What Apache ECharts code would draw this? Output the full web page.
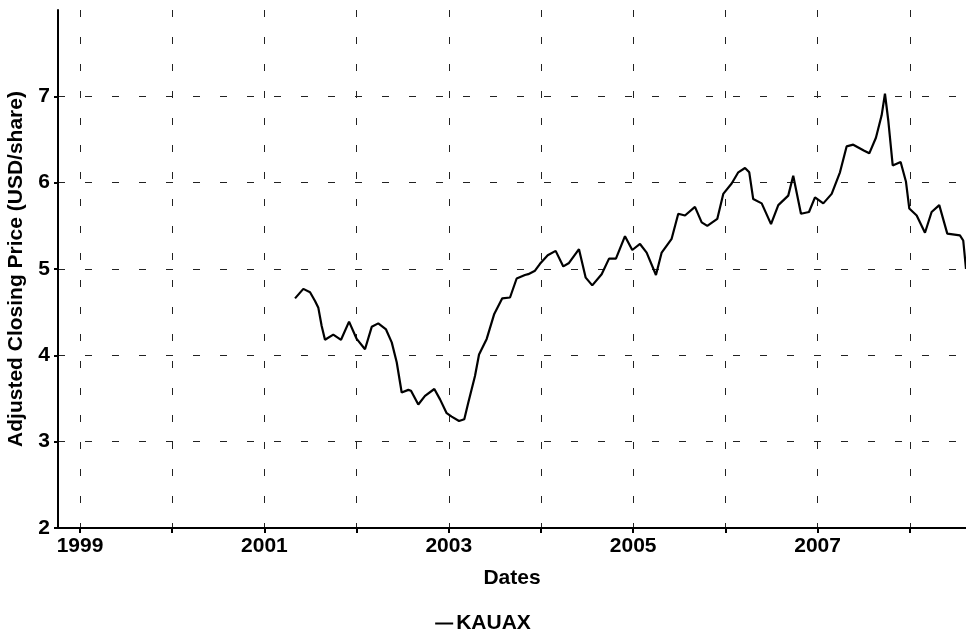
<!DOCTYPE html>
<html>
<head>
<meta charset="utf-8">
<script src="https://cdn.jsdelivr.net/npm/echarts@6/dist/echarts.min.js"></script>
<style>
html,body{margin:0;padding:0;background:#fff;}
#chart{width:966px;height:636px;}
</style>
</head>
<body>
<div id="chart"></div>
<script>
// Dates as decimal years
var dates = [2001.332,2001.422,2001.495,2001.549,2001.585,2001.621,2001.657,2001.747,2001.831,2001.918,
2002.001,2002.091,2002.164,2002.235,2002.319,2002.381,2002.435,2002.489,2002.561,2002.590,
2002.669,2002.742,2002.843,2002.905,2002.977,2003.031,2003.111,2003.168,2003.211,2003.284,
2003.328,2003.411,2003.493,2003.580,2003.664,2003.736,2003.826,2003.862,2003.935,2003.989,
2004.073,2004.159,2004.242,2004.304,2004.412,2004.485,2004.556,2004.658,2004.738,2004.813,
2004.911,2004.990,2005.074,2005.146,2005.247,2005.309,2005.417,2005.489,2005.562,2005.670,
2005.743,2005.804,2005.912,2005.977,2006.068,2006.140,2006.213,2006.259,2006.302,2006.394,
2006.495,2006.574,2006.682,2006.736,2006.820,2006.907,2006.972,2007.062,2007.153,2007.243,
2007.315,2007.387,2007.506,2007.561,2007.633,2007.695,2007.731,2007.767,2007.815,2007.901,
2007.959,2007.995,2008.075,2008.165,2008.237,2008.320,2008.407,2008.544,2008.580,2008.610];
var prices = [4.66,4.77,4.73,4.63,4.55,4.34,4.18,4.24,4.18,4.39,
4.19,4.07,4.33,4.37,4.30,4.15,3.92,3.57,3.60,3.59,
3.43,3.53,3.61,3.49,3.33,3.29,3.24,3.26,3.45,3.76,
4.01,4.19,4.48,4.66,4.67,4.89,4.93,4.94,4.98,5.06,
5.16,5.21,5.03,5.07,5.23,4.90,4.81,4.94,5.12,5.12,
5.38,5.22,5.29,5.19,4.93,5.19,5.35,5.64,5.62,5.72,
5.54,5.50,5.58,5.87,5.99,6.12,6.17,6.12,5.81,5.76,
5.52,5.74,5.85,6.08,5.64,5.66,5.83,5.76,5.87,6.12,
6.42,6.44,6.37,6.34,6.52,6.78,7.03,6.72,6.20,6.24,
6.01,5.70,5.62,5.42,5.66,5.74,5.41,5.39,5.33,5.00];
var seriesName = 'KAUAX';
var xTickYears = [1999,2000,2001,2002,2003,2004,2005,2006,2007,2008];
var xLabelYears = [1999,2001,2003,2005,2007];
var yTicks = [2,3,4,5,6,7];

var data = dates.map(function(d,i){return [d, prices[i]];});
var font = "'Liberation Sans', Arial, sans-serif";
var chart = echarts.init(document.getElementById('chart'), null, {renderer:'canvas'});
chart.setOption({
  animation:false,
  backgroundColor:'#fff',
  grid:{left:58, right:0, top:10, bottom:108, containLabel:false, outerBoundsMode:'none'},
  xAxis:{
    type:'value', min:1998.761, max:2008.61,
    name:'Dates', nameLocation:'middle', nameGap:40,
    nameTextStyle:{fontFamily:font, fontWeight:'bold', fontSize:21, color:'#000'},
    axisLine:{show:true, lineStyle:{color:'#000', width:2}},
    axisTick:{show:true, customValues:xTickYears, length:5, lineStyle:{color:'#000', width:2}},
    axisLabel:{customValues:xLabelYears, fontFamily:font, fontWeight:'bold', fontSize:21, color:'#000', margin:8,
      formatter:function(v){return String(Math.round(v));}},
    splitLine:{show:true, lineStyle:{color:'#222', width:1, type:[7,20]}}
  },
  yAxis:{
    type:'value', min:2, max:8, interval:1,
    name:'Adjusted Closing Price (USD/share)', nameLocation:'middle', nameGap:31, nameRotate:90,
    nameTextStyle:{fontFamily:font, fontWeight:'bold', fontSize:21, color:'#000'},
    axisLine:{show:true, lineStyle:{color:'#000', width:2}},
    axisTick:{show:true, customValues:yTicks, length:4, lineStyle:{color:'#000', width:2}},
    axisLabel:{customValues:yTicks, fontFamily:font, fontWeight:'bold', fontSize:21, color:'#000', margin:8},
    splitLine:{show:true, lineStyle:{color:'#222', width:1, type:[7,20]}}
  },
  legend:{
    bottom:-3, left:'center',
    itemWidth:18, itemHeight:2, itemGap:3,
    textStyle:{fontFamily:font, fontWeight:'bold', fontSize:21, color:'#000', padding:[0,0,0,-2]},
    data:[{name:seriesName, icon:'rect'}]
  },
  series:[{
    name:seriesName, type:'line', data:data, showSymbol:false, symbol:'none',
    lineStyle:{color:'#000', width:2.2}, itemStyle:{color:'#000'}
  }]
});
</script>
</body>
</html>
